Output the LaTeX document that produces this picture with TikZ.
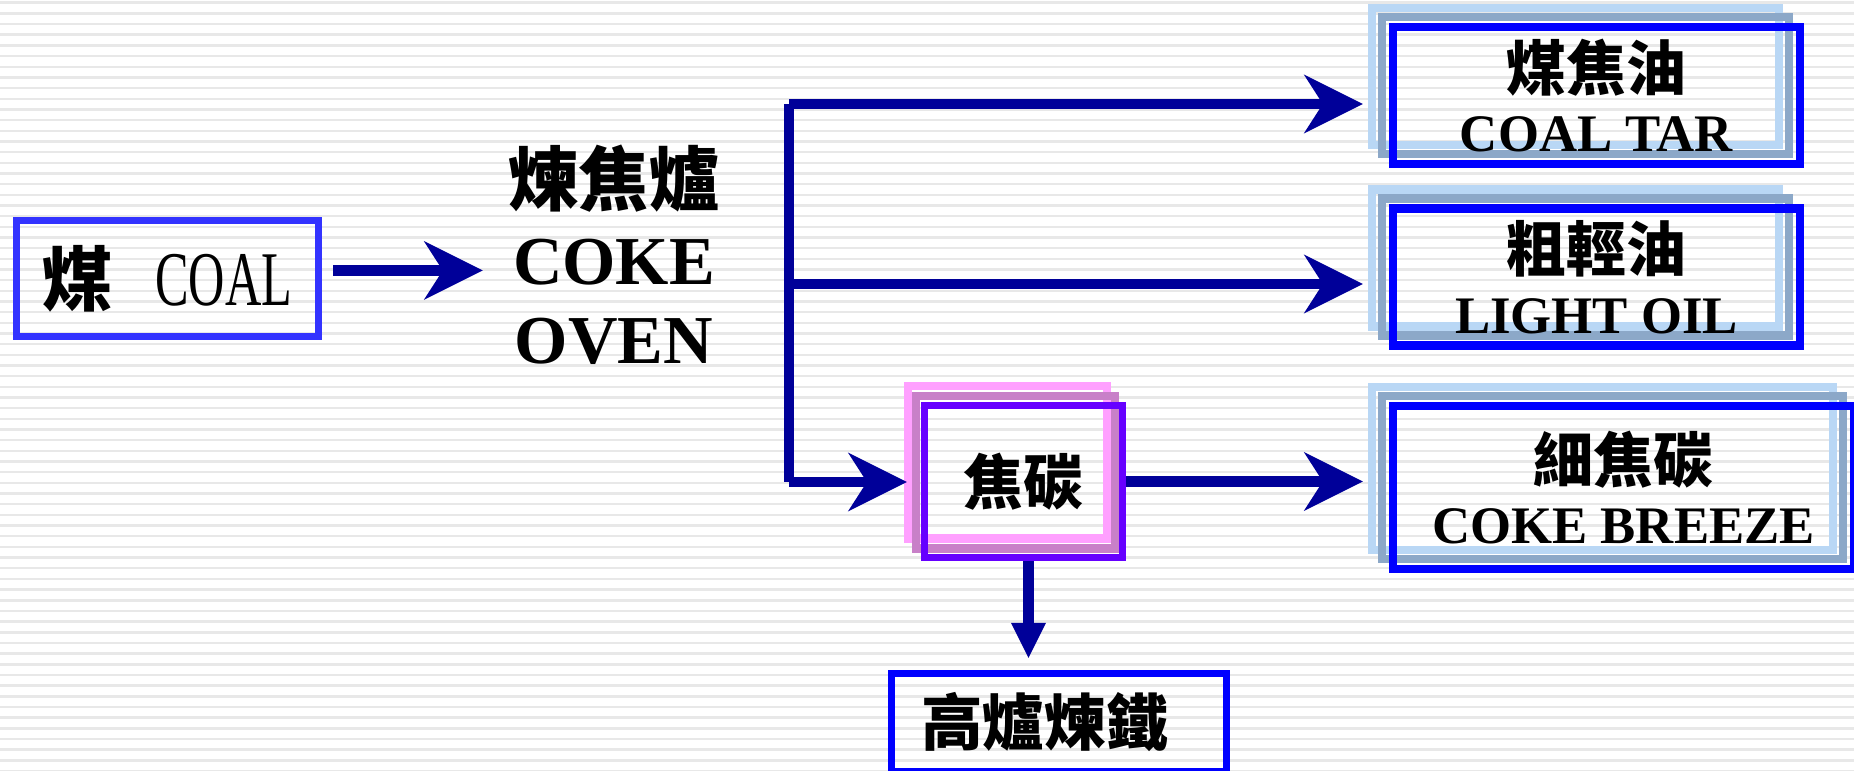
\documentclass[tikz,border=0pt]{standalone}
\usepackage{fontspec}
\usepackage{graphicx}
\setmainfont{Liberation Serif}
\newfontfamily\cjk{Noto Sans CJK TC}
\usetikzlibrary{arrows.meta,shadows}

\definecolor{navy}{RGB}{0,0,153}
\definecolor{coalblue}{RGB}{51,51,255}
\definecolor{boxblue}{RGB}{0,0,255}
\definecolor{slate}{RGB}{140,168,200}
\definecolor{paleblue}{RGB}{185,215,245}
\definecolor{violet}{RGB}{102,0,255}
\definecolor{mauve}{RGB}{200,128,200}
\definecolor{pink}{RGB}{255,160,255}

\tikzset{
  pipe/.style={draw=navy,line width=3.1pt},
  flow/.style={pipe,-{Stealth[length=0.59cm,width=0.59cm,inset=0.19cm,line width=0pt]}},
  drop/.style={pipe,-{Triangle[length=0.35cm,width=0.35cm,line width=0pt]}},
  stripe/.style={fill=gray!18},
  outbox/.style={draw=boxblue,line width=2.3pt,align=center,
    font=\fontsize{15}{17.6}\selectfont\bfseries,
    general shadow={shadow xshift=-0.21cm,shadow yshift=0.19cm,draw=paleblue,line width=2.3pt},
    general shadow={shadow xshift=-0.11cm,shadow yshift=0.10cm,draw=slate,line width=2.3pt}},
}

\begin{document}
\begin{tikzpicture}[x=0.01cm,y=-0.01cm]
  \useasboundingbox (0,0) rectangle (1854,771);

  % striped background
  \foreach \k in {0,...,72} {
    \fill[stripe] (0,{1.5+10.67*\k}) rectangle (1854,{4+10.67*\k});
  }

  % boxes
  \node[draw=coalblue,line width=2pt,minimum width=3.02cm,minimum height=1.16cm,
    font=\fontsize{20}{24}\selectfont] (coal) at (167.5,278.5)
    {{\cjk\bfseries 煤}\hspace{0.42cm}\scalebox{0.65}[1]{\fontsize{22}{26}\selectfont COAL}};
  \node[align=center,inner sep=0pt,font=\fontsize{19.5}{22.5}\selectfont\bfseries] (oven) at (614,255)
    {{\cjk\fontsize{20}{22.5}\selectfont 煉焦爐}\\COKE\\OVEN};

  \node[outbox,minimum width=4.07cm,minimum height=1.35cm] (tar) at (1596.5,95.5)
    {{\cjk\fontsize{17}{17.6}\selectfont 煤焦油}\\COAL TAR};
  \node[outbox,minimum width=4.07cm,minimum height=1.30cm] (lightoil) at (1596.5,277)
    {{\cjk\fontsize{17}{17}\selectfont 粗輕油}\\LIGHT OIL};
  \node[outbox,minimum width=4.61cm,minimum height=1.63cm] (breeze) at (1623.5,487.5)
    {{\cjk\fontsize{17}{17.6}\selectfont 細焦碳}\\COKE BREEZE};

  \node[draw=violet,line width=2pt,minimum width=1.98cm,minimum height=1.52cm,
    font=\fontsize{17}{20}\selectfont\bfseries,
    general shadow={shadow xshift=-0.16cm,shadow yshift=0.19cm,draw=pink,line width=2.3pt},
    general shadow={shadow xshift=-0.08cm,shadow yshift=0.09cm,draw=mauve,line width=2.3pt}]
    (coke) at (1023.5,481.5) {\cjk 焦碳};

  \node[draw=boxblue,line width=2pt,text width=2.75cm,inner xsep=0.3cm,align=left,
    minimum height=0.98cm,font=\fontsize{17.5}{20}\selectfont\bfseries]
    (blast) at (1059,722.5) {\cjk 高爐煉鐵};

  % connectors
  \coordinate (top) at (789,104);
  \coordinate (mid) at (789,284);
  \coordinate (low) at (789,482);

  \draw[flow,shorten <=0.11cm] ([yshift=0.08cm]coal.east) -- ([xshift=-0.25cm,yshift=0.08cm]coal.east -| oven.west);
  \draw[pipe] (top) -- (low);
  \draw[flow] (top) -- ([xshift=-0.26cm]tar.west |- top);
  \draw[flow] (mid) -- ([xshift=-0.26cm]lightoil.west |- mid);
  \draw[flow] (low) -- ([xshift=-0.14cm]coke.west |- low);
  \draw[flow] (coke.east) -- ([xshift=-0.26cm]breeze.west |- coke.east);
  \draw[drop] ([xshift=0.05cm]coke.south) -- ([xshift=0.05cm,yshift=0.12cm]coke.south |- blast.north);

\end{tikzpicture}
\end{document}
